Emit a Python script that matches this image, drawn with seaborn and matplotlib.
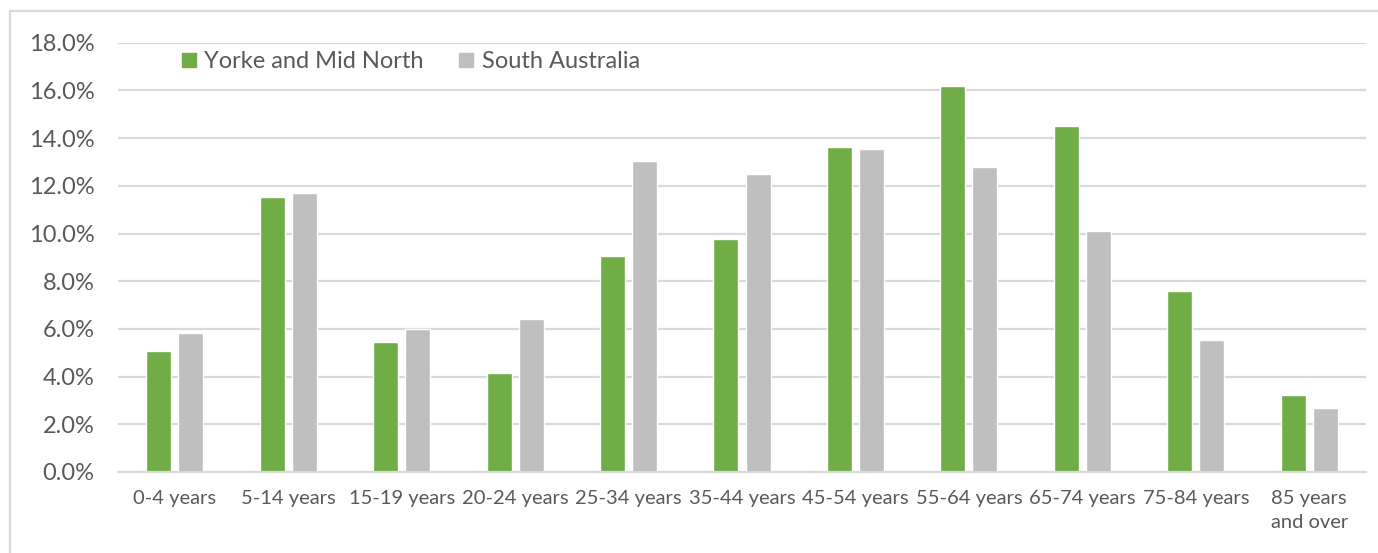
import matplotlib
matplotlib.use("Agg")
import matplotlib.pyplot as plt
import seaborn as sns
import pandas as pd
from matplotlib.lines import Line2D
from matplotlib.ticker import FuncFormatter, MultipleLocator

categories = ["0-4 years", "5-14 years", "15-19 years", "20-24 years", "25-34 years",
              "35-44 years", "45-54 years", "55-64 years", "65-74 years", "75-84 years",
              "85 years\nand over"]
yorke = [5.06, 11.51, 5.43, 4.15, 9.06, 9.79, 13.64, 16.17, 14.51, 7.57, 3.21]
south_aus = [5.83, 11.70, 6.00, 6.43, 13.04, 12.49, 13.53, 12.80, 10.09, 5.55, 2.67]
series_names = ["Yorke and Mid North", "South Australia"]
colors = ["#70AD47", "#BFBFBF"]

df = pd.DataFrame({
    "Age": categories * 2,
    "Region": [series_names[0]] * len(categories) + [series_names[1]] * len(categories),
    "Value": yorke + south_aus,
})

sns.set_theme(style="white")
plt.rcParams["font.family"] = ["Lato", "DejaVu Sans"]
text_color = "#595959"
grid_color = "#D9D9D9"

W, H = 1378, 553
fig = plt.figure(figsize=(W / 100, H / 100), dpi=100)
ax = fig.add_axes([118 / W, 1 - 472 / H, (1366 - 118) / W, (472 - 42.7) / H])

sns.barplot(data=df, x="Age", y="Value", hue="Region", order=categories,
            hue_order=series_names, palette=colors, width=0.566, gap=0.22,
            saturation=1, ax=ax, legend=False)

ax.set_ylim(0, 18)
ax.set_xlim(-0.5, len(categories) - 0.5)
ax.yaxis.set_major_locator(MultipleLocator(2))
ax.yaxis.set_major_formatter(FuncFormatter(lambda v, p: f"{v:.1f}%"))
ax.set_axisbelow(True)
ax.grid(axis="y", color=grid_color, linewidth=1.6)
ax.grid(axis="x", visible=False)
for s in ["top", "right", "left"]:
    ax.spines[s].set_visible(False)
ax.spines["bottom"].set_color(grid_color)
ax.spines["bottom"].set_linewidth(1.6)
ax.set_xlabel("")
ax.set_ylabel("")
ax.tick_params(axis="y", length=0, pad=17, labelsize=17, labelcolor=text_color)
ax.tick_params(axis="x", length=0, pad=13, labelsize=14.5, labelcolor=text_color)
for lbl in ax.get_xticklabels():
    lbl.set_linespacing(1.5)

handles = [Line2D([0], [0], marker="s", linestyle="none", markersize=10,
                  markerfacecolor=c, markeredgecolor=c) for c in colors]
leg = fig.legend(handles, series_names, loc="center left",
                 bbox_to_anchor=(182 / W, 1 - 62 / H), ncol=2, frameon=False,
                 fontsize=17, handlelength=0.6, handletextpad=0.35,
                 columnspacing=1.5, borderpad=0, borderaxespad=0)
for t in leg.get_texts():
    t.set_color(text_color)

# outer chart border (left and top edges visible)
fig.add_artist(Line2D([10 / W, 10 / W], [0, 1 - 11 / H], transform=fig.transFigure,
                      color=grid_color, linewidth=1.6))
fig.add_artist(Line2D([10 / W, 1], [1 - 11 / H, 1 - 11 / H], transform=fig.transFigure,
                      color=grid_color, linewidth=1.6))

fig.savefig("out.png", dpi=100, facecolor="white")
